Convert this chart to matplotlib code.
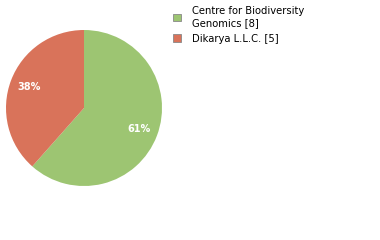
import numpy as np
import matplotlib
matplotlib.use('Agg')
import matplotlib.pyplot as plt
from matplotlib.patches import Patch

labels = ['Centre for Biodiversity\nGenomics [8]', 'Dikarya L.L.C. [5]']
counts = [8, 5]
colors = ['#9dc572', '#d9735a']

plt.rc('font', family='DejaVu Sans', size=7.2)

fig = plt.figure(figsize=(3.8, 2.4), dpi=100)
ax = fig.add_axes([6/380, 54/240, 156/380, 156/240])

total = sum(counts)
pcts = [int(np.floor(100.0*c/total)) for c in counts]

wedges, _ = ax.pie(counts, colors=colors, startangle=90, counterclock=False,
                   radius=1.0)
for w, p in zip(wedges, pcts):
    ang = np.deg2rad((w.theta1 + w.theta2)/2)
    ax.text(0.75*np.cos(ang), 0.75*np.sin(ang), '%d%%' % p,
            ha='center', va='center', color='white', fontsize=7, fontweight='bold')
ax.set_xlim(-1, 1)
ax.set_ylim(-1, 1)
ax.set_aspect('equal')

handles = [Patch(facecolor=c, edgecolor='#888888', linewidth=0.6) for c in colors]
leg = fig.legend(handles, labels, loc='upper left', bbox_to_anchor=(169/380, 1 - 2/240),
                 frameon=False, fontsize=7.2, handlelength=0.75, handleheight=0.75,
                 handletextpad=1.1, labelspacing=0.6, borderaxespad=0)

fig.savefig('out.png', dpi=100)
